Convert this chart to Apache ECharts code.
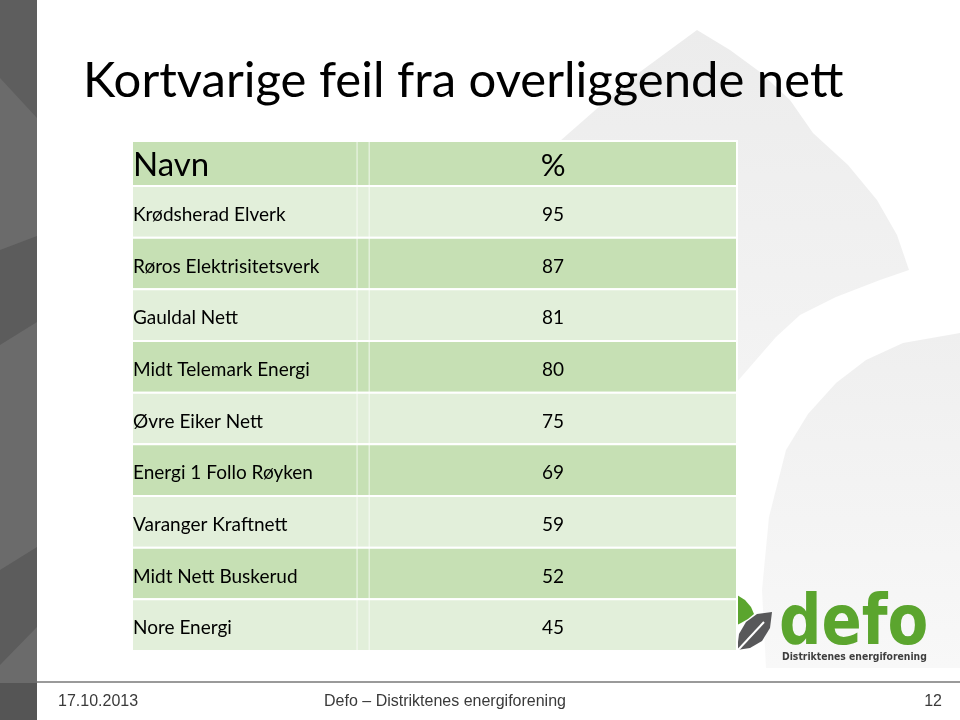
<!DOCTYPE html>
<html>
<head>
<meta charset="utf-8">
<script src="https://cdn.jsdelivr.net/npm/echarts@6/dist/echarts.min.js"></script>
<style>
  html, body { margin: 0; padding: 0; background: #fff; }
  #main { width: 960px; height: 720px; }
</style>
</head>
<body>
<div id="main"></div>
<script>
// data
var title = 'Kortvarige feil fra overliggende nett';
var headers = ['Navn', '%'];
var names = ['Krødsherad Elverk', 'Røros Elektrisitetsverk', 'Gauldal Nett', 'Midt Telemark Energi',
  'Øvre Eiker Nett', 'Energi 1 Follo Røyken', 'Varanger Kraftnett', 'Midt Nett Buskerud', 'Nore Energi'];
var values = [95, 87, 81, 80, 75, 69, 59, 52, 45];
var footerDate = '17.10.2013';
var footerText = 'Defo – Distriktenes energiforening';
var pageNo = '12';

var dark = '#c6e0b4', light = '#e2efda';
var font = 'Lato';
// column borders as share of table width
var splitA = 0.372, splitB = 0.392, valMid = 0.696;

var myChart = echarts.init(document.getElementById('main'));

function cell(params, api, isHeader) {
  var i = params.dataIndex;
  var p0 = api.coord([0, i]);
  var p1 = api.coord([1, i]);
  var h = api.size([0, 1])[1];
  var x0 = p0[0], x1 = p1[0], w = x1 - x0, yc = p0[1], top = yc - h / 2;
  var fill = isHeader ? dark : (i % 2 === 0 ? light : dark);
  var size = isHeader ? 33 : 19;
  var label = isHeader ? headers[0] : names[i];
  var val = isHeader ? headers[1] : String(api.value(1));
  var dy = isHeader ? 2 : 3;
  return {
    type: 'group',
    children: [
      { type: 'rect', shape: { x: x0, y: top, width: w, height: h },
        style: { fill: fill, stroke: '#fff', lineWidth: 2 } },
      { type: 'line', shape: { x1: x0 + w * splitA, y1: top, x2: x0 + w * splitA, y2: top + h },
        style: { stroke: 'rgba(255,255,255,0.75)', lineWidth: 1 } },
      { type: 'line', shape: { x1: x0 + w * splitB, y1: top, x2: x0 + w * splitB, y2: top + h },
        style: { stroke: 'rgba(255,255,255,0.75)', lineWidth: 1 } },
      { type: 'text', style: { text: label, x: x0 + 1, y: yc + dy, fill: '#000',
        font: size + 'px ' + font, textAlign: 'left', textVerticalAlign: 'middle' } },
      { type: 'text', style: { text: val, x: x0 + w * valMid, y: yc + dy, fill: '#000',
        font: (isHeader ? 31 : size) + 'px ' + font, textAlign: 'center', textVerticalAlign: 'middle' } }
    ]
  };
}

var option = {
  animation: false,
  backgroundColor: '#fff',
  grid: [
    { left: 132, top: 141, width: 605, height: 45 },
    { left: 132, top: 186, width: 605, height: 465 }
  ],
  xAxis: [
    { type: 'value', min: 0, max: 1, show: false, gridIndex: 0 },
    { type: 'value', min: 0, max: 1, show: false, gridIndex: 1 }
  ],
  yAxis: [
    { type: 'category', data: [headers[0]], inverse: true, show: false, gridIndex: 0 },
    { type: 'category', data: names, inverse: true, show: false, gridIndex: 1 }
  ],
  graphic: [
    // light background petals on the right
    { type: 'polygon', z: -10, silent: true,
      shape: { points: [[697, 30], [730, 50], [760, 72], [790, 100], [813, 133], [848, 165], [877, 200],
        [897, 235], [909, 270], [880, 280], [836, 297], [800, 315], [776, 337], [736, 383], [600, 470],
        [560, 141], [633, 77]] },
      style: { fill: new echarts.graphic.LinearGradient(0, 0, 0, 1, [
        { offset: 0, color: '#ececec' }, { offset: 1, color: '#f5f5f5' }]) } },
    { type: 'polygon', z: -10, silent: true,
      shape: { points: [[960, 333], [903, 343], [866, 360], [836, 383], [808, 414], [786, 450], [769, 517],
        [762, 590], [766, 668], [960, 668]] },
      style: { fill: new echarts.graphic.LinearGradient(0, 0, 0, 1, [
        { offset: 0, color: '#efefef' }, { offset: 1, color: '#f8f8f8' }]) } },
    // left stripe
    { type: 'rect', z: -5, shape: { x: 0, y: 0, width: 37, height: 720 }, style: { fill: '#6b6b6b' } },
    { type: 'polygon', z: -4, shape: { points: [[0, 0], [37, 0], [37, 118], [0, 78]] }, style: { fill: '#5e5e5e' } },
    { type: 'polygon', z: -4, shape: { points: [[0, 250], [37, 236], [37, 322], [0, 345]] }, style: { fill: '#5c5c5c' } },
    { type: 'polygon', z: -4, shape: { points: [[0, 570], [37, 547], [37, 627], [0, 665]] }, style: { fill: '#5c5c5c' } },
    { type: 'rect', z: -4, shape: { x: 0, y: 683, width: 37, height: 37 }, style: { fill: '#555' } },
    // title
    { type: 'text', left: 83, top: 57, style: { text: title, fill: '#000', font: '49px ' + font } },
    // footer
    { type: 'line', shape: { x1: 37, y1: 682, x2: 960, y2: 682 }, style: { stroke: '#9a9a9a', lineWidth: 2 } },
    { type: 'text', style: { text: footerDate, x: 58, y: 702, fill: '#3a3a3a',
      font: '16px "Liberation Sans"', textVerticalAlign: 'middle' } },
    { type: 'text', style: { text: footerText, x: 445, y: 702, fill: '#3a3a3a',
      font: '16px "Liberation Sans"', textAlign: 'center', textVerticalAlign: 'middle' } },
    { type: 'text', style: { text: pageNo, x: 942, y: 702, fill: '#3a3a3a',
      font: '16px "Liberation Sans"', textAlign: 'right', textVerticalAlign: 'middle' } },
    // logo
    { type: 'polygon', shape: { points: [[737, 595], [745, 600], [751, 607], [754, 614], [748, 619],
      [741, 623], [737, 625]] }, style: { fill: '#5ba52e' } },
    { type: 'polygon', shape: { points: [[737, 650], [739, 634], [746, 622], [757, 614], [772, 612],
      [770, 628], [762, 641], [750, 648]] }, style: { fill: '#58585a' } },
    { type: 'line', shape: { x1: 738, y1: 650, x2: 764, y2: 622 }, style: { stroke: '#fff', lineWidth: 2 } },
    { type: 'text', x: 779, y: 661, scaleY: 1.06,
      style: { text: 'defo', x: 0, y: 0, fill: '#5ba52e',
        font: 'bold 66px "DejaVu Sans Condensed"', textVerticalAlign: 'bottom' },
      originX: 0, originY: 0 },
    { type: 'text', style: { text: 'Distriktenes energiforening', x: 782, y: 657, fill: '#3e3e3e',
      font: 'bold 10.3px "DejaVu Sans Condensed"', textVerticalAlign: 'middle' } }
  ],
  series: [
    { type: 'custom', xAxisIndex: 0, yAxisIndex: 0, data: [[0, 0]],
      renderItem: function (params, api) { return cell(params, api, true); } },
    { type: 'custom', xAxisIndex: 1, yAxisIndex: 1,
      data: values.map(function (v, i) { return [i, v]; }),
      encode: { y: 0 },
      renderItem: function (params, api) { return cell(params, api, false); } }
  ]
};
myChart.setOption(option);
window.addEventListener('resize', function () { myChart.resize(); });
</script>
</body>
</html>
